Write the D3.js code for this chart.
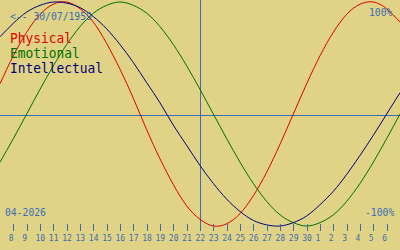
<!DOCTYPE html>
<html>
<head>
<meta charset="utf-8">
<script src="https://cdn.jsdelivr.net/npm/d3@7"></script>
<style>
  html, body { margin: 0; padding: 0; background: #e0d385; }
  svg { display: block; }
  .lbl { font-family: "DejaVu Sans Mono", monospace; fill: #3a6db5; }
  .tick text { font-family: "DejaVu Sans Mono", monospace; font-size: 8px; fill: #3a6db5; }
</style>
</head>
<body>
<div id="chart"></div>
<script>
// days shown: 7 April .. 7 May 2026, "today" is 22 April (index 15)
var days = [7, 8, 9, 10, 11, 12, 13, 14, 15, 16, 17, 18, 19, 20, 21, 22, 23, 24, 25, 26, 27, 28, 29, 30,
            1, 2, 3, 4, 5, 6, 7];
var todayIndex = 15;

// cycle values per day, -1 .. 1
var physical = [0.27, 0.52, 0.73, 0.89, 0.98, 1.00, 0.94, 0.82, 0.63, 0.40, 0.14, -0.14, -0.40, -0.63, -0.82,
                -0.94, -1.00, -0.98, -0.89, -0.73, -0.52, -0.27, 0.00, 0.27, 0.52, 0.73, 0.89, 0.98, 1.00, 0.94, 0.82];
var emotional = [-0.43, -0.22, 0.00, 0.22, 0.43, 0.62, 0.78, 0.90, 0.97, 1.00, 0.97, 0.90, 0.78, 0.62, 0.43,
                 0.22, 0.00, -0.22, -0.43, -0.62, -0.78, -0.90, -0.97, -1.00, -0.97, -0.90, -0.78, -0.62, -0.43, -0.22, 0.00];
var intellectual = [0.69, 0.81, 0.91, 0.97, 1.00, 0.99, 0.95, 0.87, 0.76, 0.62, 0.46, 0.28, 0.10, -0.10, -0.28,
                    -0.46, -0.62, -0.76, -0.87, -0.95, -0.99, -1.00, -0.97, -0.91, -0.81, -0.69, -0.54, -0.37, -0.19, 0.00, 0.19];

var seriesNames = ['Physical', 'Emotional', 'Intellectual'];
var seriesColors = ['#e00000', '#007000', '#000080'];

var birthLabel = '<-- 30/07/1959';
var monthLabel = '04-2026';
var topLabel = '100%';
var bottomLabel = '-100%';

var width = 400, height = 250;

var svg = d3.select('#chart').append('svg')
    .attr('width', width)
    .attr('height', height);

svg.append('rect')
    .attr('width', width)
    .attr('height', height)
    .attr('fill', '#e0d385');

var xScale = d3.scaleLinear()
    .domain([0, days.length - 1])
    .range([0, width]);

var yScale = d3.scaleLinear()
    .domain([-1, 1])
    .range([226, 2]);

// zero line and today marker
svg.append('line')
    .attr('x1', 0).attr('x2', width)
    .attr('y1', Math.round(yScale(0)) + 1.5)
    .attr('y2', Math.round(yScale(0)) + 1.5)
    .attr('stroke', '#3a6db5')
    .attr('shape-rendering', 'crispEdges');

svg.append('line')
    .attr('x1', Math.round(xScale(todayIndex)) + 0.5)
    .attr('x2', Math.round(xScale(todayIndex)) + 0.5)
    .attr('y1', 0).attr('y2', 231)
    .attr('stroke', '#3a6db5')
    .attr('shape-rendering', 'crispEdges');

// curves
var line = d3.line()
    .x(function(d, i) { return xScale(i); })
    .y(function(d) { return yScale(d); })
    .curve(d3.curveNatural);

[physical, emotional, intellectual].forEach(function(values, k) {
    svg.append('path')
        .datum(values)
        .attr('fill', 'none')
        .attr('stroke', seriesColors[k])
        .attr('stroke-width', 1)
        .attr('d', line);
});

// day axis
var axis = d3.axisBottom(xScale)
    .tickValues(d3.range(1, days.length - 1))
    .tickSize(7)
    .tickFormat(function(i) { return days[i]; });

var gAxis = svg.append('g')
    .attr('transform', 'translate(0,224)')
    .call(axis);

gAxis.select('.domain').remove();
gAxis.selectAll('.tick line')
    .attr('stroke', '#3a6db5')
    .attr('shape-rendering', 'crispEdges');
gAxis.selectAll('.tick text')
    .attr('text-anchor', 'start')
    .attr('x', -5)
    .attr('y', 17)
    .attr('dy', 0);

// legend
seriesNames.forEach(function(name, k) {
    svg.append('text')
        .attr('class', 'lbl')
        .attr('x', 10)
        .attr('y', 43 + k * 15)
        .attr('font-size', 14)
        .attr('textLength', name.length * 7.75)
        .attr('lengthAdjust', 'spacingAndGlyphs')
        .style('fill', seriesColors[k])
        .text(name);
});

// corner labels
function smallLabel(txt, x, y) {
    svg.append('text')
        .attr('class', 'lbl')
        .attr('x', x)
        .attr('y', y)
        .attr('font-size', 11)
        .attr('textLength', txt.length * 5.85)
        .attr('lengthAdjust', 'spacingAndGlyphs')
        .text(txt);
}

smallLabel(birthLabel, 10, 20);
smallLabel(topLabel, 369, 16);
smallLabel(monthLabel, 5, 216);
smallLabel(bottomLabel, 365, 216);
</script>
</body>
</html>
